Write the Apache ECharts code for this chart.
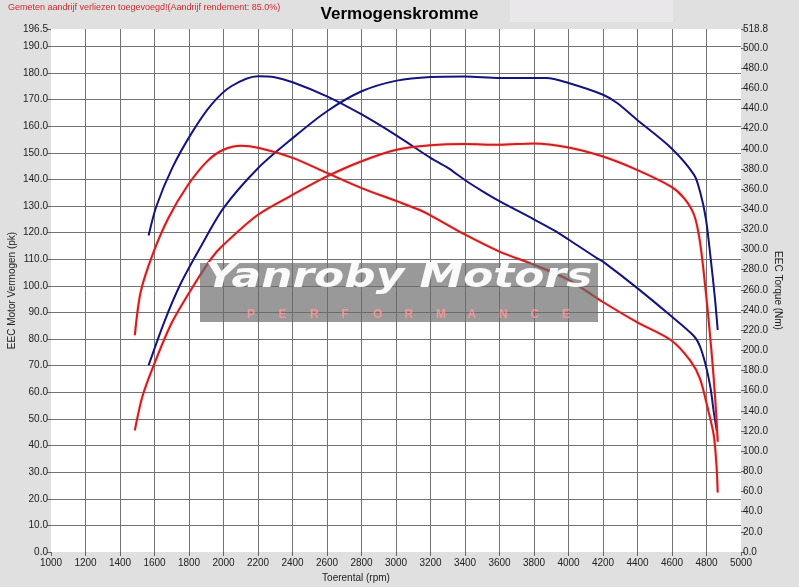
<!DOCTYPE html>
<html><head><meta charset="utf-8">
<script src="https://cdn.jsdelivr.net/npm/echarts@6/dist/echarts.min.js"></script>
<style>html,body{margin:0;padding:0;background:#e0e0e0}#c{width:799px;height:587px}</style>
</head><body><div id="c"></div>
<script>
// Blue run: torque (Nm, right axis)
const blueTorqueRpm = [1566,1611,1703,1817,1931,2045,2200,2296,2401,2600,2801,3004,3200,3301,3399,3500,3600,3799,3917,4000,4169,4200,4397,4595,4728,4762,4796,4824,4842,4860];
const blueTorqueNm  = [314,343,381,416,444,462,472,471,466,452,434,413,391,381,369,358,348,330,319,310,291,288,262,234,214,204,185,162,139,120];
// Blue run: power (pk, left axis)
const bluePowerRpm = [1566,1657,1748,1863,2000,2200,2401,2600,2801,3004,3200,3399,3600,3799,3872,4000,4200,4282,4397,4595,4728,4762,4796,4824,4849,4865];
const bluePowerPk  = [70.2,86.5,100.3,114.1,129.2,144.2,155.5,165.6,173.1,177.1,178.5,178.7,178.1,178.1,178.1,176.2,171.8,168.7,162.4,151.8,141.7,135.5,125.4,110.4,95.3,83.4];
// Red run: torque (Nm, right axis)
const redTorqueRpm = [1486,1520,1589,1680,1794,1908,2000,2103,2200,2401,2600,2801,3004,3141,3200,3399,3600,3799,4000,4200,4397,4595,4705,4762,4808,4842,4858,4865];
const redTorqueNm  = [215,258,295,331,364,388,399,403,401,391,376,361,348,339,334,315,298,285,270,248,228,210,190,172,142,116,86,59];
// Red run: power (pk, left axis)
const redPowerRpm = [1486,1532,1611,1703,1817,1931,2000,2200,2401,2600,2801,3004,3200,3399,3600,3799,4000,4200,4397,4595,4671,4728,4762,4796,4824,4842,4858,4865];
const redPowerPk  = [45.7,58.9,72.7,86.5,99.1,110.4,115.4,126.7,134.2,141.1,146.8,151.1,152.8,153.3,153.0,153.5,152.0,148.6,143.6,137.3,132.9,126.7,116.6,97.8,79.0,65.2,50.1,41.4];

const xMin = 1000, xMax = 5000, xStep = 200;
const leftMax = 196.5, leftStep = 10;
const rightMax = 518.8, rightStep = 20;

const titleText = 'Vermogenskromme';
const noteText = 'Gemeten aandrijf verliezen toegevoegd!(Aandrijf rendement: 85.0%)';
const xName = 'Toerental (rpm)';
const leftName = 'EEC Motor Vermogen (pk)';
const rightName = 'EEC Torque (Nm)';
const wmMain = 'Yanroby Motors';
const wmSub = 'PERFORMANCE';

const pairs = (xs, ys) => xs.map((x, i) => [x, ys[i]]);
const FONT = '"Liberation Sans", Arial, sans-serif';
const BLUE = '#14147e', RED = '#cc2020';

const chart = echarts.init(document.getElementById('c'), null, {renderer: 'canvas'});

const subLetters = wmSub.split('').map((ch, i) => ({
  type: 'text', x: 247 + i * 31.5, y: 309, z: 101,
  style: {text: ch, fill: 'rgba(255,150,150,0.85)', font: 'bold 12px ' + FONT}
}));

const lineSeries = (name, data, yIdx, color) => ({
  name, type: 'line', data, yAxisIndex: yIdx, showSymbol: false, symbol: 'none',
  smooth: 0.3,
  lineStyle: {color, width: 2, shadowColor: color === RED ? 'rgba(255,80,80,0.5)' : 'rgba(0,0,0,0)', shadowBlur: color === RED ? 2 : 0},
  itemStyle: {color}, z: 3
});

chart.setOption({
  backgroundColor: '#e0e0e0',
  animation: false,
  textStyle: {fontFamily: FONT},
  title: {text: titleText, left: 'center', top: 1, textStyle: {fontSize: 17, fontWeight: 'bold', color: '#000', fontFamily: FONT}},
  grid: {left: 51, right: 58, top: 29, bottom: 35, show: true, backgroundColor: '#ffffff', borderWidth: 0, containLabel: false, outerBoundsMode: 'none'},
  xAxis: {
    type: 'value', min: xMin, max: xMax, interval: xStep,
    axisLine: {show: false},
    axisTick: {show: true, length: 4, lineStyle: {color: '#666'}},
    axisLabel: {fontSize: 10, color: '#222', margin: 6, formatter: v => String(v)},
    splitLine: {show: true, showMinLine: false, showMaxLine: false, lineStyle: {color: '#737373', width: 1}}
  },
  yAxis: [
    {
      type: 'value', position: 'left', min: 0, max: leftMax, interval: leftStep,
      axisLine: {show: false},
      axisTick: {show: true, length: 4, lineStyle: {color: '#666'}},
      axisLabel: {fontSize: 10, color: '#222', margin: 3, showMaxLabel: true, formatter: v => v.toFixed(1)},
      splitLine: {show: true, showMinLine: false, showMaxLine: false, lineStyle: {color: '#737373', width: 1}},
      name: leftName, nameLocation: 'middle', nameGap: 34, nameMoveOverlap: false,
      nameTextStyle: {fontSize: 10, color: '#222'}
    },
    {
      type: 'value', position: 'right', min: 0, max: rightMax, interval: rightStep,
      axisLine: {show: false},
      axisTick: {show: true, length: 4, lineStyle: {color: '#666'}},
      axisLabel: {fontSize: 10, color: '#222', margin: 2, showMaxLabel: true, formatter: v => v.toFixed(1)},
      splitLine: {show: false},
      name: rightName, nameLocation: 'middle', nameGap: 32, nameRotate: -90, nameMoveOverlap: false,
      nameTextStyle: {fontSize: 10, color: '#222'}
    }
  ],
  series: [
    lineSeries('Vermogen blauw', pairs(bluePowerRpm, bluePowerPk), 0, BLUE),
    lineSeries('Koppel blauw', pairs(blueTorqueRpm, blueTorqueNm), 1, BLUE),
    lineSeries('Vermogen rood', pairs(redPowerRpm, redPowerPk), 0, RED),
    lineSeries('Koppel rood', pairs(redTorqueRpm, redTorqueNm), 1, RED)
  ],
  graphic: [
    {type: 'rect', shape: {x: 510, y: 0, width: 163, height: 22}, style: {fill: '#e9e7ea'}, z: -1},
    {type: 'text', x: 8, y: 3, style: {text: noteText, fill: '#d02a2a', font: '9px ' + FONT}},
    {type: 'text', x: 356, y: 573, style: {text: xName, fill: '#222', font: '10px ' + FONT, align: 'center'}},
    {type: 'rect', shape: {x: 200, y: 263, width: 398, height: 59}, style: {fill: 'rgba(105,105,105,0.68)'}, z: 100},
    {type: 'text', x: 205, y: 262, scaleX: 1.33, originX: 0, originY: 0, z: 101,
      style: {text: wmMain, fill: 'rgba(255,255,255,0.95)', font: 'italic bold 33px "DejaVu Sans", sans-serif'}},
    ...subLetters
  ]
});
</script>
</body></html>
